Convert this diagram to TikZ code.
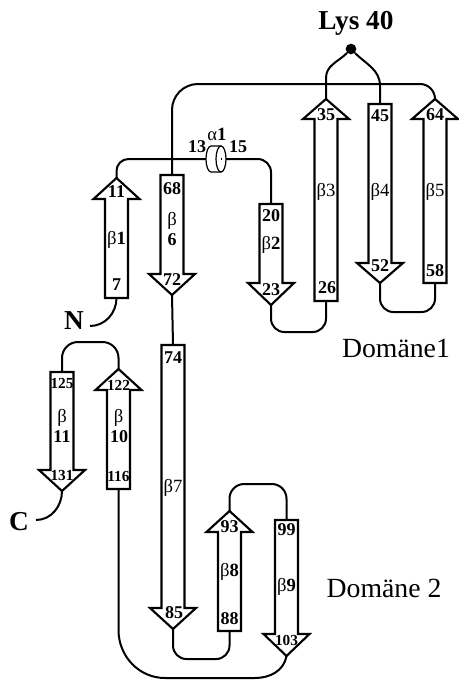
\documentclass[tikz,border=0pt]{standalone}
\usepackage{fontspec}
\setmainfont{Liberation Serif}
\tikzset{
  strand/.style={draw=black, line width=1.6pt, fill=white, line join=miter},
  conn/.style={draw=black, line width=1.5pt},
  num/.style={font=\fontsize{13.5}{15}\selectfont\bfseries, inner sep=0pt},
  numsm/.style={font=\fontsize{11.5}{13}\selectfont\bfseries, inner sep=0pt},
  glab/.style={font=\fontsize{14}{15}\selectfont, inner sep=0pt},
  big/.style={font=\fontsize{20.5}{22}\selectfont\bfseries, inner sep=0pt},
  dom/.style={font=\fontsize{20.8}{22}\selectfont, inner sep=0pt, anchor=base}
}
% up strand: name, x, tip y, wing y, bottom y
\newcommand{\mkup}[5]{%
  \path[strand] (#2-11.5,#5) -- (#2-11.5,#4) -- (#2-23,#4) -- (#2,#3) -- (#2+23,#4) -- (#2+11.5,#4) -- (#2+11.5,#5) -- cycle;
  \coordinate (#1t) at (#2,#3);
  \coordinate (#1b) at (#2,#5);
}
% down strand: name, x, top y, wing y, tip y
\newcommand{\mkdown}[5]{%
  \path[strand] (#2-11.5,#3) -- (#2-11.5,#4) -- (#2-23,#4) -- (#2,#5) -- (#2+23,#4) -- (#2+11.5,#4) -- (#2+11.5,#3) -- cycle;
  \coordinate (#1t) at (#2,#3);
  \coordinate (#1b) at (#2,#5);
}
\begin{document}
\begin{tikzpicture}[x=0.75pt,y=-0.75pt]
\useasboundingbox (0,0) rectangle (458,682);

% strands
\mkup{b1}{116.5}{178}{199}{298}
\mkdown{b6}{172}{175}{274}{295}
\mkdown{b2}{271}{204}{283}{305}
\mkup{b3}{326}{99}{119}{301}
\mkdown{b4}{380}{104}{263}{283}
\mkup{b5}{435}{99}{119}{283}
\mkdown{b7}{173}{345}{608}{629}
\mkup{b8}{229.5}{511}{532}{631}
\mkdown{b9}{286.5}{520}{634}{656}
\mkup{b10}{118.5}{369}{390}{489}
\mkdown{b11}{62}{372}{470}{491}

% helper coordinates
\coordinate (hL) at (206,159);
\coordinate (hR) at (222,159);
\coordinate (Nend) at (90,326);
\coordinate (Cend) at (36,520);
\node[circle, fill=black, inner sep=0pt, minimum size=8pt] (lys) at (351,49) {};

% connectors
\draw[conn] (b1b) to[out=-90,in=0] (Nend);
\draw[conn, rounded corners=9pt] (b1t) |- (hL);
\draw[conn, rounded corners=10pt] (hR) -| (b2t);
\draw[conn] (b6t) -- (172,110) to[out=90,in=180] (198,84) -- (420,84) to[out=0,in=90] (b5t);
\draw[conn] (b3t) -- (326,78) to[out=90,in=225] (lys);
\draw[conn] (lys) to[out=-45,in=90] (380,86) -- (b4t);
\draw[conn, rounded corners=10pt] (b2b) -- ++(0,27) -| (b3b);
\draw[conn, rounded corners=10pt] (b4b) -- ++(0,29) -| (b5b);
\draw[conn] (b6b) -- (b7t);
\draw[conn, rounded corners=10pt] (b7b) -- ++(0,30) -| (b8b);
\draw[conn, rounded corners=11pt] (b8t) -- ++(0,-27) -| (b9t);
\draw[conn] (b9b) to[out=-100,in=0] (255,678) -- (165,678) to[out=180,in=-90] (118.5,630) -- (b10b);
\draw[conn, rounded corners=12pt] (b10t) -- ++(0,-27) -| (b11t);
\draw[conn] (b11b) to[out=-90,in=0] (Cend);

% helix alpha1 (cylinder)
\fill[white] (221,146) -- (211,146) arc[start angle=90,end angle=270,x radius=3.75pt,y radius=9.75pt] -- (221,172) -- cycle;
\draw[line width=0.9pt] (221,146) -- (211,146) arc[start angle=90,end angle=270,x radius=3.75pt,y radius=9.75pt] -- (221,172);
\draw[line width=0.9pt, fill=white] (221,159) ellipse[x radius=3.75pt,y radius=9.75pt];
\draw[conn] (221,159) -- (hR);

% labels
\node[big] (lysl) at (356,23) {Lys 40};
\node[big] (Nl) at (74,321) {N};
\node[big] (Cl) at (19,522) {C};
\node[dom] (d1) at (396,357) {Domäne1};
\node[dom] (d2) at (384,597) {Domäne 2};
\node[num] (h13) at (197,147) {13};
\node[glab] (ha) at (217,134) {α\textbf{1}};
\node[num] (h15) at (238,147) {15};

\node[num] (n11) at (116.5,192) {11};
\node[glab] (g1) at (116.5,240) {β\textbf{1}};
\node[num] (n7) at (116.5,285) {7};

\node[num] (n68) at (172,189) {68};
\node[glab] (g6a) at (172,221) {β};
\node[num] (g6b) at (172,240) {6};
\node[num] (n72) at (172,280) {72};

\node[num] (n20) at (271,216) {20};
\node[glab] (g2) at (271,245) {β\textbf{2}};
\node[num] (n23) at (271,290) {23};

\node[num] (n35) at (326,115) {35};
\node[glab] (g3) at (326,192) {β3};
\node[num] (n26) at (327,288) {26};

\node[num] (n45) at (380,116) {45};
\node[glab] (g4) at (380,192) {β4};
\node[num] (n52) at (380,266) {52};

\node[num] (n64) at (435,115) {64};
\node[glab] (g5) at (435,192) {β5};
\node[num] (n58) at (435,271) {58};

\node[num] (n74) at (173,358) {74};
\node[glab] (g7) at (173,488) {β7};
\node[num] (n85) at (174,613) {85};

\node[num] (n93) at (229.5,527) {93};
\node[glab] (g8) at (229.5,572) {β\textbf{8}};
\node[num] (n88) at (229.5,619) {88};

\node[num] (n99) at (286.5,530) {99};
\node[glab] (g9) at (286.5,587) {β\textbf{9}};
\node[numsm] (n103) at (286.5,640) {103};

\node[numsm] (n122) at (118.5,385) {122};
\node[glab] (g10a) at (118.5,418) {β};
\node[num] (g10b) at (119,437) {10};
\node[numsm] (n116) at (118.5,476) {116};

\node[numsm] (n125) at (62,383) {125};
\node[glab] (g11a) at (62,418) {β};
\node[num] (g11b) at (62,437) {11};
\node[numsm] (n131) at (62,475) {131};
\end{tikzpicture}
\end{document}
